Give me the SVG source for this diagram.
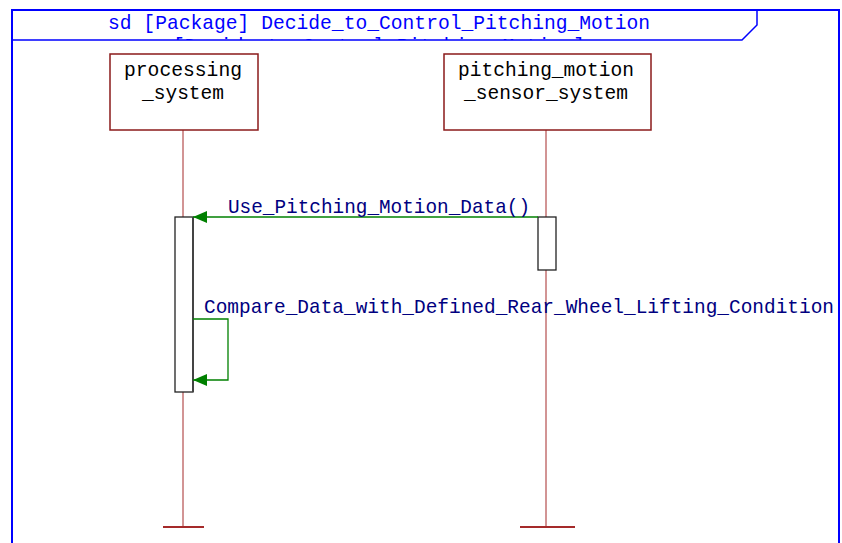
<svg xmlns="http://www.w3.org/2000/svg" width="842" height="543" viewBox="0 0 842 543">
  <style>
    .mono { font-family: "Liberation Mono", "DejaVu Sans Mono", monospace; font-size: 21px; }
    .title { fill: #0000FF; }
    .node-box { fill: #FFFFFF; stroke: #8B1A1A; stroke-width: 1.5; }
    .node-label { fill: #000000; text-anchor: middle; }
    .lifeline { stroke: #A52A2A; stroke-width: 1; fill: none; }
    .lifeline-end { stroke: #A52A2A; stroke-width: 2; }
    .activation { fill: #FFFFFF; stroke: #222222; stroke-width: 1.3; }
    .msg { stroke: #008000; stroke-width: 1.3; fill: none; }
    .msg-label { fill: #000080; }
  </style>
  <defs>
    <marker id="arrow" viewBox="0 0 14 12" refX="14" refY="6" markerWidth="14" markerHeight="12" markerUnits="userSpaceOnUse" orient="auto">
      <path d="M0,0 L14,6 L0,12 Z" fill="#008000"/>
    </marker>
    <clipPath id="header-clip">
      <rect x="12" y="10" width="746" height="30"/>
    </clipPath>
  </defs>

  <rect width="842" height="543" fill="#FFFFFF"/>

  <!-- Sequence diagram frame -->
  <g id="frame">
    <path d="M12,560 L12,10 L839,10 L839,560" fill="none" stroke="#0000FF" stroke-width="2"/>
    <path d="M12,40 L742,40 L757,25 L757,10" fill="none" stroke="#0000FF" stroke-width="1.5"/>
    <g clip-path="url(#header-clip)">
      <text class="mono title" x="379" y="29" text-anchor="middle" textLength="542" lengthAdjust="spacingAndGlyphs">sd [Package] Decide_to_Control_Pitching_Motion</text>
      <text class="mono title" x="379" y="52" text-anchor="middle" textLength="412" lengthAdjust="spacingAndGlyphs">[Decide_to_Control_Pitching_Motion]</text>
    </g>
  </g>

  <!-- Lifelines -->
  <g id="processing_system">
    <line class="lifeline" x1="183" y1="130" x2="183" y2="527"/>
    <line class="lifeline-end" x1="163" y1="527" x2="204" y2="527"/>
    <rect class="node-box" x="110" y="54" width="148" height="76"/>
    <text class="mono node-label" x="183" y="76" textLength="118" lengthAdjust="spacingAndGlyphs">processing</text>
    <text class="mono node-label" x="183" y="99" textLength="82" lengthAdjust="spacingAndGlyphs">_system</text>
  </g>

  <g id="pitching_motion_sensor_system">
    <line class="lifeline" x1="546" y1="130" x2="546" y2="527"/>
    <line class="lifeline-end" x1="520" y1="527" x2="575" y2="527"/>
    <rect class="node-box" x="444" y="54" width="207" height="76"/>
    <text class="mono node-label" x="546" y="76" textLength="176" lengthAdjust="spacingAndGlyphs">pitching_motion</text>
    <text class="mono node-label" x="546" y="99" textLength="164" lengthAdjust="spacingAndGlyphs">_sensor_system</text>
  </g>

  <!-- Execution specifications -->
  <g id="activations">
    <rect class="activation" x="175" y="217" width="18" height="175"/>
    <line x1="193" y1="217" x2="193" y2="392" stroke="#444444" stroke-width="2"/>
    <rect class="activation" x="538" y="217" width="18" height="53"/>
  </g>

  <!-- Messages -->
  <g id="connectors">
    <line class="msg" x1="538" y1="217" x2="193" y2="217" marker-end="url(#arrow)"/>
    <text class="mono msg-label" x="228" y="213" textLength="302" lengthAdjust="spacingAndGlyphs">Use_Pitching_Motion_Data()</text>

    <polyline class="msg" points="193,319 228,319 228,380 193,380" marker-end="url(#arrow)"/>
    <text class="mono msg-label" x="204" y="313" textLength="630" lengthAdjust="spacingAndGlyphs">Compare_Data_with_Defined_Rear_Wheel_Lifting_Condition</text>
  </g>
</svg>
